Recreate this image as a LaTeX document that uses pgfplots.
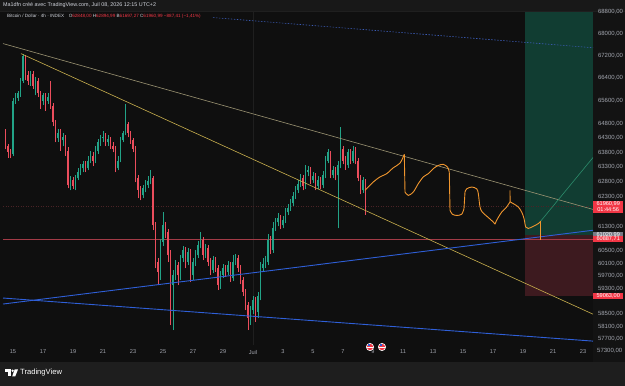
\documentclass[border=0pt]{standalone}
\usepackage{pgfplots}
\pgfplotsset{compat=1.18}
\usepackage{pgfplotstable}
\usepackage{fontspec}
\setmainfont{Liberation Sans}
\definecolor{bg}{HTML}{0F0F0F}
\definecolor{band}{HTML}{1E1E1E}
\definecolor{topband}{HTML}{181818}
\definecolor{pcol}{HTML}{131313}
\definecolor{upc}{HTML}{22A387}
\definecolor{dnc}{HTML}{EB4D5C}
\definecolor{khaki}{HTML}{9C9473}
\definecolor{yel}{HTML}{C9B04E}
\definecolor{tvblue}{HTML}{2F5FD8}
\definecolor{dotblue}{HTML}{3B5BB5}
\definecolor{orng}{HTML}{F0962E}
\definecolor{projg}{HTML}{2C8C6C}
\definecolor{hred}{HTML}{A33B47}
\definecolor{curred}{HTML}{4A2326}
\definecolor{lblred}{HTML}{F23645}
\definecolor{lblgray}{HTML}{787B86}
\definecolor{txt}{HTML}{D1D4DC}
\definecolor{tickc}{HTML}{A3A6AF}
\definecolor{posg}{HTML}{113D32}
\definecolor{posr}{HTML}{3D1A1F}
\definecolor{sep}{HTML}{1F1F1F}

\pgfplotstableread{
t o h l c d
-0.5 64480 64590 63900 64000 0
-0.3333 64000 64070 63620 63800 0
-0.1667 63800 63900 63590 63760 0
0 63760 65700 63660 65600 1
0.1667 65600 65850 65490 65700 1
0.3333 65700 65950 65600 65850 1
0.5 65850 66410 65740 66310 1
0.6667 66310 67280 66240 67170 1
0.8333 67170 67240 66340 66490 0
1 66490 66660 66170 66310 0
1.1667 66310 66660 66130 66560 1
1.3333 66560 66660 66020 66130 0
1.5 66130 66450 65780 66310 1
1.6667 66310 66410 65740 65850 0
1.8333 65850 65950 65320 65600 0
2 65600 65880 65460 65780 1
2.1667 65780 65880 65250 65600 0
2.3333 65600 65850 65490 65740 1
2.5 65740 66310 65320 65420 0
2.6667 65420 65530 64690 64830 0
2.8333 64830 64930 64140 64280 0
3 64280 64620 64170 64480 1
3.1667 64480 64620 63860 64210 0
3.3333 64210 64450 64000 64310 1
3.5 64310 64410 63690 63860 0
3.6667 63860 63970 62570 62680 0
3.8333 62680 62980 62510 62840 1
4 62840 62940 62540 62640 0
4.1667 62640 63010 62510 62910 1
4.3333 62910 63250 62840 63110 1
4.5 63110 63390 63010 63250 1
4.6667 63250 63520 63110 63390 1
4.8333 63390 63490 63110 63250 0
5 63250 63660 63180 63520 1
5.1667 63520 63830 63420 63690 1
5.3333 63690 63800 63320 63520 0
5.5 63520 64000 63420 63860 1
5.6667 63860 64240 63760 64140 1
5.8333 64140 64410 64030 64280 1
6 64280 64520 64170 64340 1
6.1667 64340 64450 64000 64140 0
6.3333 64140 64380 64030 64240 1
6.5 64240 64340 63930 64030 0
6.6667 64030 64140 63800 63930 0
6.8333 63930 64030 63110 63250 0
7 63250 63660 63180 63520 1
7.1667 63520 64310 63450 64210 1
7.3333 64210 64550 64140 64450 1
7.5 64450 65490 64380 64760 1
7.6667 64760 64860 64310 64450 0
7.8333 64450 64550 64100 64210 0
8 64210 64280 63800 63930 0
8.1667 63930 64000 62780 62910 0
8.3333 62910 63010 62240 62510 0
8.5 62510 62640 62170 62340 0
8.6667 62340 62680 62240 62570 1
8.8333 62570 62840 62440 62680 1
9 62680 62980 62570 62810 1
9.1667 62810 63180 62710 62910 1
9.3333 62910 62980 61180 61340 0
9.5 61340 61440 59940 60140 0
9.6667 60140 60270 59400 59820 0
9.8333 59820 60880 59560 60790 1
10 60790 61770 60660 61340 1
10.1667 61340 61440 60920 61110 0
10.3333 61110 61210 60140 60360 0
10.5 60360 60530 58140 59400 0
10.6667 59400 59880 57980 59720 1
10.8333 59720 60200 59560 60040 1
11 60040 60140 59400 59720 0
11.1667 59720 60360 59560 60270 1
11.3333 60270 60660 60140 60530 1
11.5 60530 60620 59940 60140 0
11.6667 60140 60590 60040 60460 1
11.8333 60460 60560 59500 59720 0
12 59720 60270 59560 60140 1
12.1667 60140 60530 60010 60360 1
12.3333 60360 60820 60270 60690 1
12.5 60690 61110 60590 60850 1
12.6667 60850 60950 60200 60360 0
12.8333 60360 60720 60270 60590 1
13 60590 60690 60010 60140 0
13.1667 60140 60270 59720 59880 0
13.3333 59880 60330 59780 60200 1
13.5 60200 60300 59820 59940 0
13.6667 59940 60040 59240 59400 0
13.8333 59400 59850 59270 59720 1
14 59720 60070 59620 59940 1
14.1667 59940 60040 59660 59820 0
14.3333 59820 60170 59720 60040 1
14.5 60040 60140 59500 59620 0
14.6667 59620 60360 59530 60140 1
14.8333 60140 60400 60040 60270 1
15 60270 60360 59820 59940 0
15.1667 59940 60040 59430 59560 0
15.3333 59560 59660 59050 59180 0
15.5 59180 59270 58610 58770 0
15.6667 58770 58860 57980 58360 0
15.8333 58360 58730 58140 58610 1
16 58610 59050 58480 58920 1
16.1667 58920 59020 58230 58550 0
16.3333 58550 59180 58360 59050 1
16.5 59050 60140 58920 59940 1
16.6667 59940 60270 59820 60070 1
16.8333 60070 60330 59940 60140 1
17 60140 61050 60040 60850 1
17.1667 60850 60980 60400 60530 0
17.3333 60530 61440 60430 61240 1
17.5 61240 61570 61150 61440 1
17.6667 61440 61740 61310 61570 1
17.8333 61570 61670 61210 61340 0
18 61340 61640 61240 61510 1
18.1667 61510 61910 61410 61770 1
18.3333 61770 62040 61670 61910 1
18.5 61910 62210 61810 62070 1
18.6667 62070 62440 61970 62310 1
18.8333 62310 62640 62210 62510 1
19 62510 62840 62410 62710 1
19.1667 62710 63050 62610 62910 1
19.3333 62910 63010 62510 62640 0
19.5 62640 63350 62540 63110 1
19.6667 63110 63320 62980 63180 1
19.8333 63180 63280 62710 62840 0
20 62840 63110 62740 62980 1
20.1667 62980 63080 62510 62640 0
20.3333 62640 62980 62540 62840 1
20.5 62840 62940 62540 62680 0
20.6667 62680 63150 62570 63010 1
20.8333 63010 63660 62910 63520 1
21 63520 63930 63420 63800 1
21.1667 63800 63860 62910 63010 0
21.3333 63010 63320 62910 63180 1
21.5 63180 63280 62840 63010 0
21.6667 63010 63490 61240 63350 1
21.8333 63350 64660 63250 63930 1
22 63930 64030 63390 63520 0
22.1667 63520 63660 63210 63350 0
22.3333 63350 63930 63250 63800 1
22.5 63800 63900 63390 63520 0
22.6667 63520 64000 63420 63860 1
22.8333 63860 63970 63390 63520 0
23 63520 63620 62810 62910 0
23.1667 62910 63010 62370 62510 0
23.3333 62510 62940 62410 62848 1
23.5 62848 62895 61697 61960.99 0
}\candles

\begin{document}
\begin{tikzpicture}
\useasboundingbox (0pt,0pt) rectangle (625pt,386pt);
\fill[bg] (0pt,0pt) rectangle (625pt,386pt);
\fill[pcol] (593pt,24pt) rectangle (625pt,375pt);
\fill[band] (0pt,0pt) rectangle (625pt,24pt);
\fill[topband] (0pt,375pt) rectangle (625pt,386pt);
\draw[sep, line width=0.5pt] (0pt,375pt) -- (625pt,375pt);

\begin{axis}[
  at={(3pt,41pt)}, anchor=south west,
  scale only axis, width=590pt, height=333pt,
  xmin=-0.6667, xmax=38.6667,
  % price scale drawn logarithmically, as in the reference
  y coord trafo/.code={\begingroup\pgfkeys{/pgf/fpu=true,/pgf/fpu/output format=fixed}\pgfmathparse{ln(#1)}\pgfmathsmuggle\pgfmathresult\endgroup},
  y coord inv trafo/.code={\begingroup\pgfkeys{/pgf/fpu=true,/pgf/fpu/output format=fixed}\pgfmathparse{exp(#1)}\pgfmathsmuggle\pgfmathresult\endgroup},
  ymin=57518, ymax=68800,
  axis line style={draw=none}, tick style={draw=none},
  clip=false,
  xtick={0,2,...,38},
  xticklabels={15,17,19,21,23,25,27,29,Juil,3,5,7,9,11,13,15,17,19,21,23},
  xticklabel style={anchor=center, yshift=-7pt, text=tickc, font=\fontsize{5.6}{6}\selectfont},
  ytick={57700,58100,58500,59300,59700,60100,60500,61300,62300,62800,63300,63800,64300,64800,65600,66400,67200,68000,68800},
  yticklabels={{57700,00},{58100,00},{58500,00},{59300,00},{59700,00},{60100,00},{60500,00},{61300,00},{62300,00},{62800,00},{63300,00},{63800,00},{64300,00},{64800,00},{65600,00},{66400,00},{67200,00},{68000,00},{68800,00}},
  yticklabel pos=right,
  yticklabel style={anchor=west, xshift=1.5pt, text=tickc, font=\fontsize{6}{6}\selectfont},
]
% month separator
\addplot[draw=sep, line width=0.5pt] coordinates {(16,57518) (16,68800)};
% position tool
\addplot[draw=none, fill=posg] coordinates {(34.133,61020.99) (38.6667,61020.99) (38.6667,68800) (34.133,68800)} --cycle;
\addplot[draw=none, fill=posr] coordinates {(34.133,59063) (38.6667,59063) (38.6667,61020.99) (34.133,61020.99)} --cycle;
% horizontal lines
\addplot[draw=hred, line width=0.7pt] coordinates {(-0.6667,60887.71) (38.6667,60887.71)};
\addplot[draw=curred, line width=0.5pt, dash pattern=on 1pt off 1.5pt] coordinates {(-0.6667,61960.99) (38.6667,61960.99)};
% candles
\pgfplotstablegetrowsof{\candles}
\pgfmathtruncatemacro{\lastrow}{\pgfplotsretval-1}
\pgfplotsforeachungrouped \i in {0,...,\lastrow}{%
  \pgfplotstablegetelem{\i}{t}\of{\candles}\let\candT\pgfplotsretval
  \pgfplotstablegetelem{\i}{o}\of{\candles}\let\candO\pgfplotsretval
  \pgfplotstablegetelem{\i}{h}\of{\candles}\let\candH\pgfplotsretval
  \pgfplotstablegetelem{\i}{l}\of{\candles}\let\candL\pgfplotsretval
  \pgfplotstablegetelem{\i}{c}\of{\candles}\let\candC\pgfplotsretval
  \pgfplotstablegetelem{\i}{d}\of{\candles}\let\candD\pgfplotsretval
  \ifnum\candD=1 \def\candcol{upc}\else\def\candcol{dnc}\fi
  \edef\tmp{%
    \noexpand\addplot[draw=\candcol, line width=0.6pt] coordinates {(\candT,\candL) (\candT,\candH)};
    \noexpand\addplot[draw=\candcol, line width=1.9pt] coordinates {(\candT,\candO) (\candT,\candC)};
  }\tmp
}
% trend lines
\addplot[draw=khaki, line width=0.6pt] coordinates {(-0.6667,67640) (38.6667,61870)};
\addplot[draw=yel, line width=0.6pt] coordinates {(0.5333,67275) (38.6667,58480)};
\addplot[draw=tvblue, line width=0.9pt] coordinates {(-0.6667,58800) (38.6667,61180)};
\addplot[draw=tvblue, line width=0.9pt] coordinates {(-0.6667,58990) (38.6667,57640)};
\addplot[draw=dotblue, line width=0.6pt, dash pattern=on 1.5pt off 1.5pt] coordinates {(13.333,68590) (38.6667,67490)};
% projection
\addplot[draw=projg, line width=0.6pt] coordinates {(35.18,61480) (38.6667,63620)};
\addplot[draw=orng, line width=0.9pt, smooth, tension=0.5] coordinates {
(23.467,62510) (24.02,62790) (24.467,62960) (24.913,63070) (25.353,63270) (25.8,63430) (26.087,63730)};
\addplot[draw=orng, line width=0.9pt] coordinates {(26.087,63730) (26.133,62450)};
\addplot[draw=orng, line width=0.9pt, smooth, tension=0.5] coordinates {
(26.133,62450) (26.353,62340) (26.687,62450) (27.02,62730) (27.353,62960) (27.687,63070) (28.02,63240) (28.353,63350) (28.687,63390) (28.98,63290) (29.087,63120)};
\addplot[draw=orng, line width=0.9pt] coordinates {(29.087,63120) (29.133,61840)};
\addplot[draw=orng, line width=0.9pt, smooth, tension=0.5] coordinates {
(29.133,61840) (29.287,61710) (29.58,61670) (29.913,61710) (30.067,61900)};
\addplot[draw=orng, line width=0.9pt] coordinates {(30.067,61900) (30.133,62450)};
\addplot[draw=orng, line width=0.9pt, smooth, tension=0.5] coordinates {
(30.133,62450) (30.247,62560) (30.58,62620) (30.913,62560) (31.02,62400) (31.133,61950) (31.287,61780) (31.687,61600) (32.02,61450) (32.133,61380)};
\addplot[draw=orng, line width=0.9pt, smooth, tension=0.5] coordinates {
(32.133,61380) (32.247,61510) (32.58,61780) (32.913,61950) (33.133,62120)};
\addplot[draw=orng, line width=0.9pt] coordinates {(33.133,62120) (33.133,62510) (33.14,62120)};
\addplot[draw=orng, line width=0.9pt, smooth, tension=0.5] coordinates {
(33.14,62120) (33.353,62060) (33.687,61950) (33.913,61780) (34.067,61570) (34.18,61290) (34.353,61240) (34.687,61310) (35.02,61400) (35.18,61480)};
\addplot[draw=orng, line width=0.9pt] coordinates {(35.18,61480) (35.18,60850)};
% price labels
\node[fill=lblred, text=white, anchor=west, inner sep=0.8pt, minimum width=30pt, align=center, font=\fontsize{5.6}{6.4}\selectfont] at (axis cs:38.6667,61960.99) {61960,99\\01:44:56};
\node[fill=lblgray, text=white, anchor=west, inner sep=0.8pt, minimum width=30pt, font=\fontsize{5.6}{6}\selectfont] at (axis cs:38.6667,61020.99) {61020,99};
\node[fill=lblred, text=white, anchor=west, inner sep=0.8pt, minimum width=30pt, font=\fontsize{5.6}{6}\selectfont] at (axis cs:38.6667,60887.71) {60887,71};
\node[fill=lblred, text=white, anchor=west, inner sep=0.8pt, minimum width=30pt, font=\fontsize{5.6}{6}\selectfont] at (axis cs:38.6667,59063) {59063,00};
\end{axis}

% extra price label below plot
\node[anchor=west, inner sep=0pt, text=tickc, font=\fontsize{6}{6}\selectfont] at (597pt,35pt) {57300,00};
% event flags
\foreach \fx in {370,382}{
  \fill[white] (\fx pt,39pt) circle (4pt);
  \fill[lblred] (\fx pt,39pt) circle (3.2pt);
  \fill[white] (\fx pt-3pt,38.2pt) rectangle (\fx pt+3pt,39.4pt);
  \fill[tvblue] (\fx pt-2.2pt,39.6pt) rectangle (\fx pt,41.8pt);
}
% header
\node[anchor=west, inner sep=0pt, text=txt, font=\fontsize{5.4}{6}\selectfont] at (3pt,380.5pt) {Ma1dfn créé avec TradingView.com, Juil 08, 2026 12:15 UTC+2};
\node[anchor=west, inner sep=0pt, text=txt, font=\fontsize{4.6}{5}\selectfont] at (7pt,369.5pt) {Bitcoin / Dollar · 4h · INDEX\quad O\textcolor{lblred}{62848,00} H\textcolor{lblred}{62894,99} B\textcolor{lblred}{61697,27} C\textcolor{lblred}{61960,99} \textcolor{lblred}{−887,41 (−1,41\%)}};
% logo
\fill[white] (5pt,14pt) rectangle (10.5pt,16.5pt);
\fill[white] (7.8pt,9.5pt) rectangle (10.5pt,16.5pt);
\fill[white] (12.6pt,15.2pt) circle (1.3pt);
\fill[white] (14.6pt,16.5pt) -- (18pt,16.5pt) -- (15.2pt,9.5pt) -- (12.2pt,9.5pt) -- cycle;
\node[anchor=west, inner sep=0pt, text=white, font=\fontsize{7.6}{8}\selectfont] at (20pt,13pt) {TradingView};
\end{tikzpicture}
\end{document}
